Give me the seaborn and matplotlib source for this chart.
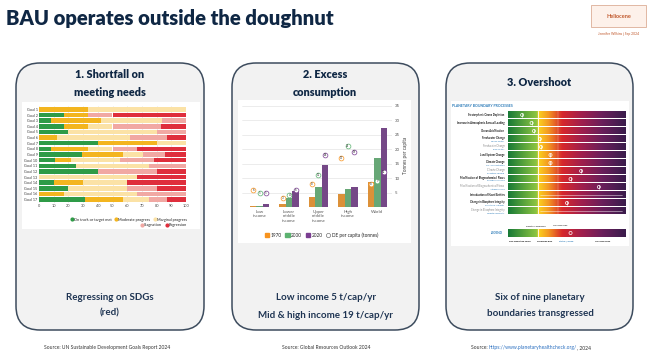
"""BAU operates outside the doughnut - three panel slide."""

import matplotlib.pyplot as plt
import numpy as np
import pandas as pd
import seaborn as sns
from matplotlib.colors import LinearSegmentedColormap
from matplotlib.lines import Line2D
from matplotlib.patches import FancyBboxPatch, Rectangle

sns.set_theme(style="white")
plt.rcParams["font.family"] = ["Lato", "DejaVu Sans"]

W, H = 648, 364
NAVY = "#0f2744"

# --- panel 1: SDG progress (% of targets) ---
goals = [f"Goal {i}" for i in range(1, 18)]
sdg_labels = ["On track or target met", "Moderate progress", "Marginal progress",
              "Stagnation", "Regression"]
sdg_colors = ["#2e9b47", "#f3b51f", "#fbe2a6", "#f1a8a3", "#df2e3c"]
on_track = [0, 17, 8, 17, 20, 0, 40, 8, 29, 11, 25, 40, 0, 10, 20, 0, 31]
moderate = [33, 16, 34, 16, 0, 12, 40, 25, 28, 11, 0, 0, 0, 20, 0, 17, 26]
marginal = [67, 0, 42, 17, 60, 50, 20, 17, 14, 33, 50, 0, 67, 30, 40, 50, 18]
stagnation = [0, 17, 16, 33, 20, 25, 0, 17, 15, 23, 25, 40, 0, 0, 20, 33, 12]
regression = [0, 50, 0, 17, 0, 13, 0, 33, 14, 22, 0, 20, 33, 40, 20, 0, 13]

# --- panel 2: material footprint (tonnes per capita) ---
income_groups = ["Low\nincome", "Lower\nmiddle\nincome", "Upper\nmiddle\nincome",
                 "High\nincome", "World"]
years = ["1970", "2000", "2020"]
year_colors = ["#f7931e", "#5cb270", "#7a3d91"]
tonnes_1970 = [0.2, 1.2, 3.4, 4.4, 8.8]
tonnes_2000 = [0.3, 3.1, 6.8, 6.4, 16.8]
tonnes_2020 = [0.9, 5.4, 14.5, 6.8, 27.3]
de_1970 = [6, 3, 8, 17, 8]
de_2000 = [5, 4, 11, 21, 9]
de_2020 = [5, 6, 18, 19, 12]

# --- panel 3: planetary boundaries ---
pb_process = ["Stratospheric Ozone Depletion", "Increase in Atmospheric Aerosol Loading",
              "Ocean Acidification", "Freshwater Change", "Freshwater Change",
              "Land System Change", "Climate Change", "Climate Change",
              "Modification of Biogeochemical Flows", "Modification of Biogeochemical Flows",
              "Introduction of Novel Entities", "Change in Biosphere Integrity",
              "Change in Biosphere Integrity"]
pb_sub = ["", "", "", "Green Water", "Blue Water", "", "CO₂ Concentration",
          "Radiative Forcing", "Phosphorus Cycle", "Nitrogen Cycle", "",
          "Functional Integrity", "Genetic Diversity"]
pb_secondary = [False, False, False, False, True, False, False, True, False, True,
                False, False, True]
pb_status = [0.12, 0.20, 0.22, 0.27, 0.28, 0.36, 0.36, 0.62, 0.53, 0.77, np.nan, 0.50, np.nan]
pb_beyond = [False] * 10 + [True, False, True]
pb_boundary = 0.25


def px_axes(fig, x0, y0, x1, y1):
    """Add axes from pixel box (top-left origin)."""
    return fig.add_axes([x0 / W, 1 - y1 / H, (x1 - x0) / W, (y1 - y0) / H])


fig = plt.figure(figsize=(W / 100, H / 100), dpi=100)
fig.patch.set_facecolor("white")
bg = fig.add_axes([0, 0, 1, 1])
bg.set_xlim(0, W)
bg.set_ylim(H, 0)
bg.axis("off")

# title and logo
bg.text(6, 19, "BAU operates outside the doughnut", fontsize=14.6, fontweight="heavy",
        color=NAVY, va="center", ha="left")
bg.add_patch(Rectangle((591, 5), 55, 22, facecolor="#fdf1ea", edgecolor="#dcae96", lw=0.6))
bg.text(618.5, 16, "Heliocene", fontsize=4, color="#c0582c", ha="center", va="center",
        fontweight="bold")
bg.text(618.5, 33.5, "Jennifer Wilkins | Sep 2024", fontsize=2.4, color="#c0582c",
        ha="center", va="center")

# panel boxes
boxes = [(16, 204), (232, 419), (446, 633)]
for x0, x1 in boxes:
    bg.add_patch(FancyBboxPatch((x0, 63), x1 - x0, 267,
                                boxstyle="round,pad=0,rounding_size=24",
                                facecolor="#f2f2f2", edgecolor="#3d4c5e", lw=1.1))

heads = [(110, ["1. Shortfall on", "meeting needs"]),
         (325, ["2. Excess", "consumption"]),
         (539, ["3. Overshoot"])]
for cx, lines in heads:
    ys = [75, 92] if len(lines) == 2 else [82]
    for y, t in zip(ys, lines):
        bg.text(cx, y, t, fontsize=7.8, fontweight="heavy", color=NAVY,
                ha="center", va="center")

captions = [(110, [(298, "Regressing on SDGs"), (313, "(red)")]),
            (326, [(297, "Low income 5 t/cap/yr"), (316, "Mid & high income 19 t/cap/yr")]),
            (540, [(298, "Six of nine planetary"), (313, "boundaries transgressed")])]
for cx, lines in captions:
    for y, t in lines:
        bg.text(cx, y, t, fontsize=7, fontweight="bold", color="#1f3553",
                ha="center", va="center")

src_kw = dict(fontsize=3.6, color="#333333", va="baseline")
bg.text(107, 349, "Source: UN Sustainable Development Goals Report 2024", ha="center", **src_kw)
bg.text(326, 349, "Source: Global Resources Outlook 2024", ha="center", **src_kw)
t1 = bg.text(471, 349, "Source: ", ha="left", **src_kw)
t2 = bg.annotate("https://www.planetaryhealthcheck.org/", xycoords=t1, xy=(1, 0),
                 va="bottom", ha="left", fontsize=3.6, color="#2a6fc0")
bg.annotate(", 2024", xycoords=t2, xy=(1, 0), va="bottom", ha="left",
            fontsize=3.6, color="#333333")

# white chart backgrounds
for x0, y0, x1, y1 in [(22, 102, 200, 229), (238, 100, 411, 243), (451, 101, 629, 246)]:
    bg.add_patch(Rectangle((x0, y0), x1 - x0, y1 - y0, facecolor="white", edgecolor="none"))

# ---------- panel 1 ----------
ax1 = px_axes(fig, 39, 106, 186, 203)
ax1.patch.set_alpha(0)
sdg = pd.DataFrame(dict(zip(sdg_labels, [on_track, moderate, marginal, stagnation, regression])),
                   index=goals)
left = np.zeros(len(goals))
for lab, col in zip(sdg_labels, sdg_colors):
    ax1.barh(goals, sdg[lab], left=left, color=col, height=0.78, lw=0, zorder=2)
    left += sdg[lab].values
ax1.set_xlim(0, 100)
ax1.set_ylim(len(goals) - 0.4, -0.6)
ax1.set_xticks(range(0, 101, 10))
ax1.grid(axis="x", color="#dddddd", lw=0.4, zorder=0)
ax1.tick_params(labelsize=2.8, colors="#444444", length=0, pad=1)
for s in ax1.spines.values():
    s.set_visible(False)
h1 = [Line2D([], [], marker="o", ls="", color=c, ms=2) for c in sdg_colors]
leg_kw = dict(fontsize=2.8, frameon=False, handletextpad=0.1, columnspacing=0.8,
              borderpad=0, handlelength=0.8)
lg = ax1.legend(h1[:3], sdg_labels[:3], ncol=3, loc="upper right",
                bbox_to_anchor=(1.02, -0.13), **leg_kw)
ax1.add_artist(lg)
ax1.legend(h1[3:], sdg_labels[3:], ncol=2, loc="upper right",
           bbox_to_anchor=(1.02, -0.19), **leg_kw)

# ---------- panel 2 ----------
ax2 = px_axes(fig, 242, 103, 392, 207)
ax2.patch.set_alpha(0)
mf = pd.DataFrame({
    "group": np.tile(income_groups, 3),
    "year": np.repeat(years, len(income_groups)),
    "tonnes": tonnes_1970 + tonnes_2000 + tonnes_2020,
    "de": de_1970 + de_2000 + de_2020,
})
sns.barplot(data=mf, x="group", y="tonnes", hue="year", palette=year_colors,
            width=0.66, ax=ax2, legend=False, zorder=2, linewidth=0)
ax2.set_ylim(0, 36)
ax2.set_xlim(-0.6, 4.5)
ax2.yaxis.tick_right()
ax2.yaxis.set_label_position("right")
ax2.set_yticks(range(5, 36, 5))
ax2.grid(axis="y", color="#dddddd", lw=0.4, zorder=0)
ax2.set_xlabel("")
ax2.set_ylabel("Tonnes per capita", fontsize=3.4, color="#444444", labelpad=2)
ax2.tick_params(labelsize=3.2, colors="#555555", length=0, pad=2)
for s in ax2.spines.values():
    s.set_visible(False)
ax2.axhline(0, color="#999999", lw=0.4)
offs = np.array([-0.22, 0, 0.22])
for k, (yr, col) in enumerate(zip(years, year_colors)):
    d = mf[mf["year"] == yr]
    xs = np.arange(len(income_groups)) + offs[k]
    ax2.scatter(xs, d["de"], s=12, facecolor="white", edgecolor=col, lw=0.5, zorder=4)
    for x, v in zip(xs, d["de"]):
        ax2.text(x, v, str(v), fontsize=2.1, ha="center", va="center", color="#333333", zorder=5)
h2 = [Rectangle((0, 0), 1, 1, color=c) for c in year_colors]
h2.append(Line2D([], [], marker="o", ls="", mfc="white", mec="#555555", ms=3, mew=0.4))
ax2.legend(h2, years + ["DE per capita (tonnes)"], ncol=4, loc="upper center",
           bbox_to_anchor=(0.53, -0.22), fontsize=3.4, frameon=False, handlelength=0.9,
           handleheight=0.9, handletextpad=0.3, columnspacing=0.8, borderpad=0)

# ---------- panel 3 ----------
pb_cmap = LinearSegmentedColormap.from_list("pb", [
    (0.0, "#187a37"), (0.245, "#8fc641"), (0.255, "#fbd31f"), (0.34, "#f49a22"),
    (0.46, "#d7282c"), (0.62, "#a21f4c"), (0.8, "#6a1f5b"), (1.0, "#3a1c4c")])
grad = np.linspace(0, 1, 256)[None, :]

bg.text(452, 106, "PLANETARY BOUNDARY PROCESSES", fontsize=2.5, color="#2a7ab8",
        fontweight="bold", va="center")
ax3 = px_axes(fig, 508, 111, 626, 215)
ax3.patch.set_alpha(0)
n = len(pb_process)
for i in range(n):
    ax3.imshow(grad, extent=(0, 1, i + 0.4, i - 0.4), cmap=pb_cmap, aspect="auto")
    main_col = "#8a8a8a" if pb_secondary[i] else "#111111"
    weight = "normal" if pb_secondary[i] else "bold"
    if pb_sub[i]:
        ax3.text(-0.03, i - 0.14, pb_process[i], fontsize=1.9, ha="right", va="center",
                 color=main_col, fontweight=weight)
        ax3.text(-0.03, i + 0.24, pb_sub[i], fontsize=1.6, ha="right", va="center",
                 color="#2a7ab8")
    else:
        ax3.text(-0.03, i, pb_process[i], fontsize=1.9, ha="right", va="center",
                 color=main_col, fontweight=weight)
    if pb_beyond[i]:
        ax3.plot([0.27, 0.97], [i, i], color="white", lw=0.4, alpha=0.8)
ax3.axvline(pb_boundary, color="white", lw=0.6)
ax3.axvline(0.42, color="white", lw=0.3, alpha=0.5)
ys = np.arange(n)
ax3.scatter(pb_status, ys, s=5, facecolor="none", edgecolor="white", lw=0.5, zorder=4)
ax3.scatter(pb_status, ys, s=10, marker="|", color="white", lw=0.5, zorder=4)
ax3.set_xlim(0, 1)
ax3.set_ylim(n - 0.5, -0.5)
ax3.axis("off")

ax3l = px_axes(fig, 508, 229, 626, 237)
ax3l.imshow(grad, extent=(0, 1, 0, 1), cmap=pb_cmap, aspect="auto")
ax3l.axvline(pb_boundary, color="white", lw=0.6)
ax3l.scatter([0.53], [0.5], s=5, facecolor="none", edgecolor="white", lw=0.5, zorder=4)
ax3l.set_xlim(0, 1)
ax3l.set_ylim(0, 1)
ax3l.axis("off")
bg.text(497, 233, "LEGEND", fontsize=2.2, color="#2a7ab8", fontweight="bold",
        ha="center", va="center")
for x, y, t, c in [(536, 226, "Planetary Boundary", "#444444"), (560, 226, "High Risk Line", "#444444"),
                   (520, 241, "Safe Operating Space", "#111111"), (545, 241, "Increasing Risk", "#111111"),
                   (566, 241, "Status / Trend", "#2a7ab8"), (603, 241, "High Risk Zone", "#111111")]:
    bg.text(x, y, t, fontsize=1.6, color=c, ha="center", va="center", fontweight="bold")

fig.savefig("out.png", dpi=100)
